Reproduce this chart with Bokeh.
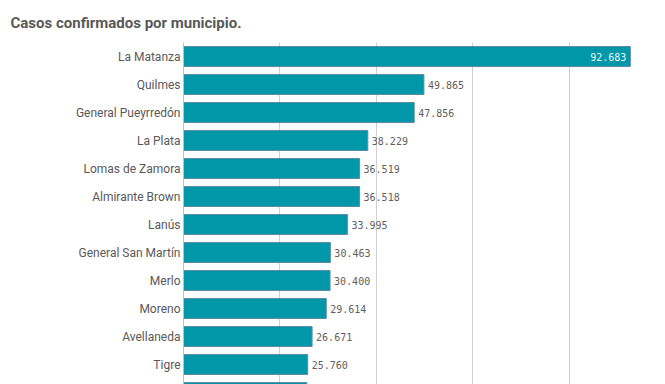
from bokeh.plotting import figure
from bokeh.models import Range1d, FixedTicker, ColumnDataSource
from bokeh.core.properties import value
from bokeh.embed import file_html
from bokeh.resources import INLINE

title_text = "Casos confirmados por municipio."
municipios = ["La Matanza", "Quilmes", "General Pueyrredón", "La Plata",
              "Lomas de Zamora", "Almirante Brown", "Lanús", "General San Martín",
              "Merlo", "Moreno", "Avellaneda", "Tigre", "Florencio Varela"]
casos = [92683, 49865, 47856, 38229, 36519, 36518, 33995, 30463, 30400,
         29614, 26671, 25760, 25575]
x_ticks = [0, 20000, 40000, 60000, 80000]

X_MAX = 95000
Y_BOTTOM = 11.714

def fmt(v):
    return f"{v:,}".replace(",", ".")

pos = list(range(len(municipios)))

p = figure(width=665, height=384, output_backend="svg", toolbar_location=None,
           x_range=Range1d(0, X_MAX), y_range=Range1d(Y_BOTTOM, -0.5),
           min_border_left=183, min_border_right=24, min_border_top=42,
           min_border_bottom=0)
p.outline_line_color = None
p.background_fill_color = "white"
p.border_fill_color = "white"

p.title.text = title_text
p.title.text_font = "Roboto"
p.title.text_font_style = "bold"
p.title.text_font_size = "15px"
p.title.text_color = "#595959"
p.title.align = "left"
p.title.offset = -173
p.title.standoff = 21

src = ColumnDataSource(dict(y=pos, v=casos))
p.hbar(y="y", left=0, right="v", height=0.714, source=src,
       fill_color="#0098a9", line_color="#5f8aa3", line_width=1)

# value labels
vis = [i for i in pos if i <= Y_BOTTOM]
inside = [i for i in vis if casos[i] > 0.85 * X_MAX]
outside = [i for i in vis if casos[i] <= 0.85 * X_MAX]
p.text(x=[casos[i] for i in outside], y=[pos[i] for i in outside],
       text=[fmt(casos[i]) for i in outside], x_offset=4,
       text_font=value("DejaVu Sans Mono"), text_font_size="10px",
       text_color="#606060", text_baseline="middle", text_align="left")
p.text(x=[casos[i] for i in inside], y=[pos[i] for i in inside],
       text=[fmt(casos[i]) for i in inside], x_offset=-4,
       text_font=value("DejaVu Sans Mono"), text_font_size="10px",
       text_color="#f2f2f2", text_baseline="middle", text_align="right")

p.xaxis.visible = False
p.xaxis.ticker = FixedTicker(ticks=x_ticks)
p.xgrid.ticker = FixedTicker(ticks=x_ticks)
p.xgrid.grid_line_color = "#d0d0d0"
p.ygrid.grid_line_color = None

yax = p.yaxis[0]
yax.ticker = FixedTicker(ticks=vis)
yax.major_label_overrides = {i: municipios[i] for i in vis}
yax.major_tick_line_color = None
yax.minor_tick_line_color = None
yax.major_tick_out = 0
yax.major_tick_in = 0
yax.minor_tick_out = 0
yax.axis_line_color = "#c0c0c0"
yax.major_label_standoff = 3
yax.major_label_text_font = "Roboto"
yax.major_label_text_font_size = "12px"
yax.major_label_text_color = "#595959"

open("out.html", "w").write(file_html(p, INLINE))
